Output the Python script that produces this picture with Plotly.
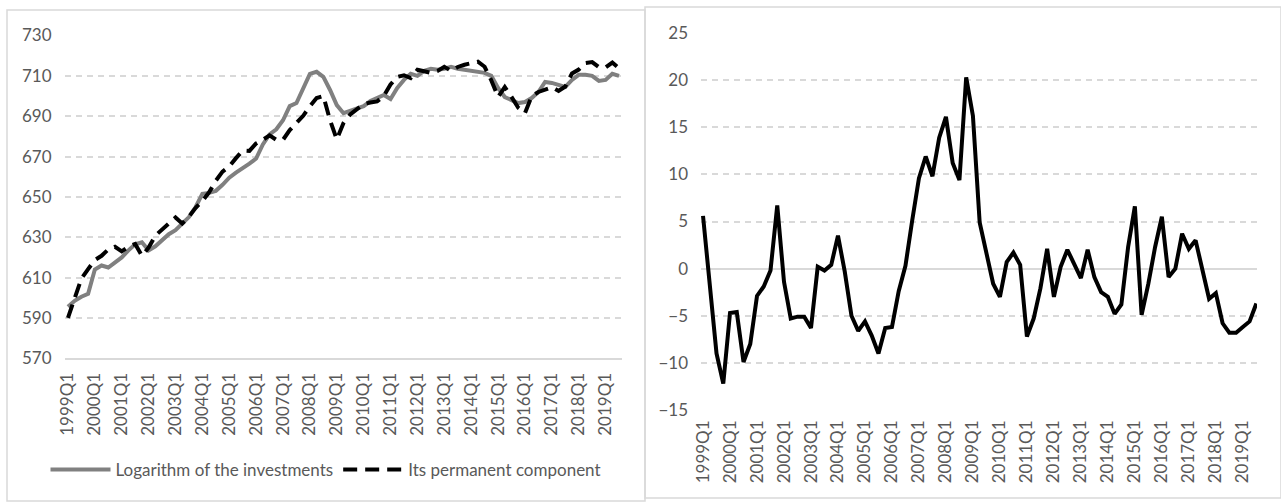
import plotly.graph_objects as go

# ---- data ----
quarters = [f"{y}Q{q}" for y in range(1999, 2020) for q in range(1, 5)][:83]
tick_labels = [f"{y}Q1" for y in range(1999, 2020)]

log_investments = [
    595.5, 598.5, 600.5, 602, 614, 616, 615, 617.5, 620, 623.5,
    626.5, 627.5, 623.5, 625.5, 628.5, 631.5, 633.5, 637, 640, 645,
    651.5, 652, 653, 656, 659.5, 662, 664, 666.5, 669, 676,
    681, 683.5, 688, 695, 696.5, 704, 711, 712, 709.5, 703,
    695.5, 691.5, 692.5, 693.5, 695, 697.5, 699, 700.5, 698.5, 704,
    708, 711, 710, 712.5, 713.5, 713, 713.5, 714.5, 713.5, 713,
    712.5, 711.8, 711.5, 710, 704, 699.5, 698, 696.5, 697, 699,
    702, 707, 706.5, 705.5, 704.5, 708, 710.5, 710.5, 710, 707.5,
    708, 711, 710,
]

permanent = [
    590, 600.3, 609.5, 614.2, 618.7, 620.8, 624, 625.3, 623, 625.4,
    626.7, 620.8, 624.9, 630.8, 633.6, 636.6, 639.8, 636.8, 640.2, 644.6,
    648, 652.3, 658, 662.5, 665.1, 669.2, 673, 672.8, 676.5, 678.3,
    680.5, 678.3, 678.3, 683.1, 686.8, 690.2, 694.9, 699, 700, 688,
    678.5, 686.6, 690.9, 693.5, 696, 696.8, 697.3, 700.1, 705.7, 709.5,
    710.3, 708.9, 713, 712.3, 711.5, 712.4, 714.5, 712.5, 714.4, 715.5,
    716.5, 717, 714.5, 707.7, 699.5, 704.4, 699.6, 694.2, 691.5, 699.9,
    702, 703.3, 704.4, 702.5, 704.7, 711.2, 713.1, 716.3, 716.8, 714.3,
    714.2, 716.6, 713.7,
]

cycle = [
    5.6, -1.8, -9, -12.2, -4.7, -4.6, -9.9, -8, -2.9, -1.9,
    -0.2, 6.7, -1.4, -5.3, -5.1, -5.1, -6.3, 0.2, -0.2, 0.4,
    3.5, -0.3, -5, -6.6, -5.6, -7.1, -9, -6.3, -6.2, -2.4,
    0.3, 5.1, 9.6, 11.9, 9.8, 13.9, 16.1, 11.2, 9.4, 20.3,
    16.2, 4.9, 1.6, -1.6, -3, 0.7, 1.7, 0.4, -7.2, -5.3,
    -2.1, 2.1, -3, 0.2, 2, 0.6, -1, 2, -0.9, -2.5,
    -3, -4.8, -3.8, 2.3, 6.6, -4.9, -1.6, 2.3, 5.5, -0.9,
    0, 3.7, 2.1, 3, -0.2, -3.2, -2.6, -5.8, -6.8, -6.8,
    -6.2, -5.6, -3.7,
]

W, H = 1281, 502
FONT = "Lato"
TXT = "#595959"
GRID = "#d9d9d9"

def px_x(p):
    return p / W

def px_y(p):
    return 1 - p / H

fig = go.Figure()

fig.add_trace(go.Scatter(
    x=quarters, y=log_investments, mode="lines",
    name="Logarithm of the investments",
    line=dict(color="#808080", width=4),
    xaxis="x", yaxis="y",
))
fig.add_trace(go.Scatter(
    x=quarters, y=permanent, mode="lines",
    name="Its permanent component",
    line=dict(color="#000000", width=4, dash="14px,8px"),
    xaxis="x", yaxis="y",
))
fig.add_trace(go.Scatter(
    x=quarters, y=cycle, mode="lines",
    name="cycle", showlegend=False,
    line=dict(color="#000000", width=4),
    xaxis="x2", yaxis="y2",
))

tick_font = dict(family=FONT, size=17, color=TXT)

fig.update_layout(
    width=W, height=H,
    margin=dict(l=0, r=0, t=0, b=0, autoexpand=False),
    paper_bgcolor="white", plot_bgcolor="white",
    font=dict(family=FONT, size=17, color=TXT),
    showlegend=True,
    legend=dict(
        orientation="h", x=px_x(326), xanchor="center",
        y=px_y(470), yanchor="middle",
        font=dict(family=FONT, size=17, color=TXT),
        itemwidth=60, bgcolor="rgba(0,0,0,0)",
    ),
    xaxis=dict(
        domain=[px_x(64.6), px_x(622.4)],
        type="category", categoryorder="array", categoryarray=quarters,
        range=[-0.5, 82.5],
        tickmode="array", tickvals=tick_labels, ticktext=tick_labels,
        tickangle=-90, tickfont=tick_font,
        showgrid=False, showline=True, linecolor=GRID, linewidth=1.5,
        ticks="", ticklabelstandoff=6, automargin=False,
        anchor="y", fixedrange=True,
    ),
    yaxis=dict(
        domain=[px_y(358.3), px_y(35.5)],
        range=[570, 730], tickvals=[570, 590, 610, 630, 650, 670, 690, 710, 730],
        tickfont=tick_font,
        showgrid=True, gridcolor=GRID, gridwidth=1.5, griddash="6px,5px",
        zeroline=False, showline=False, ticks="", ticklabelstandoff=12,
        automargin=False, anchor="x",
    ),
    xaxis2=dict(
        domain=[px_x(701), px_x(1257)],
        type="category", categoryorder="array", categoryarray=quarters,
        range=[-0.3, 82.1],
        tickmode="array", tickvals=tick_labels, ticktext=tick_labels,
        tickangle=-90, tickfont=tick_font,
        showgrid=False, showline=False, ticks="", ticklabelstandoff=6,
        automargin=False, anchor="y2",
    ),
    yaxis2=dict(
        domain=[px_y(410), px_y(33)],
        range=[-15, 25], tickvals=[-15, -10, -5, 0, 5, 10, 15, 20, 25],
        tickfont=tick_font,
        showgrid=True, gridcolor=GRID, gridwidth=1.5, griddash="6px,5px",
        zeroline=True, zerolinecolor=GRID, zerolinewidth=1.5,
        showline=False, ticks="", ticklabelstandoff=12,
        automargin=False, anchor="x2",
    ),
    shapes=[
        dict(type="rect", xref="paper", yref="paper",
             x0=px_x(7), x1=px_x(645), y0=px_y(501), y1=px_y(10),
             line=dict(color=GRID, width=1.5), layer="below"),
        dict(type="rect", xref="paper", yref="paper",
             x0=px_x(645), x1=1.0, y0=px_y(498), y1=px_y(7),
             line=dict(color=GRID, width=1.5), layer="below"),
    ],
)

fig.write_html(
    "out.html",
    config={"displayModeBar": False},
    post_script="document.body.style.margin='0px';document.body.style.overflow='hidden';",
)
